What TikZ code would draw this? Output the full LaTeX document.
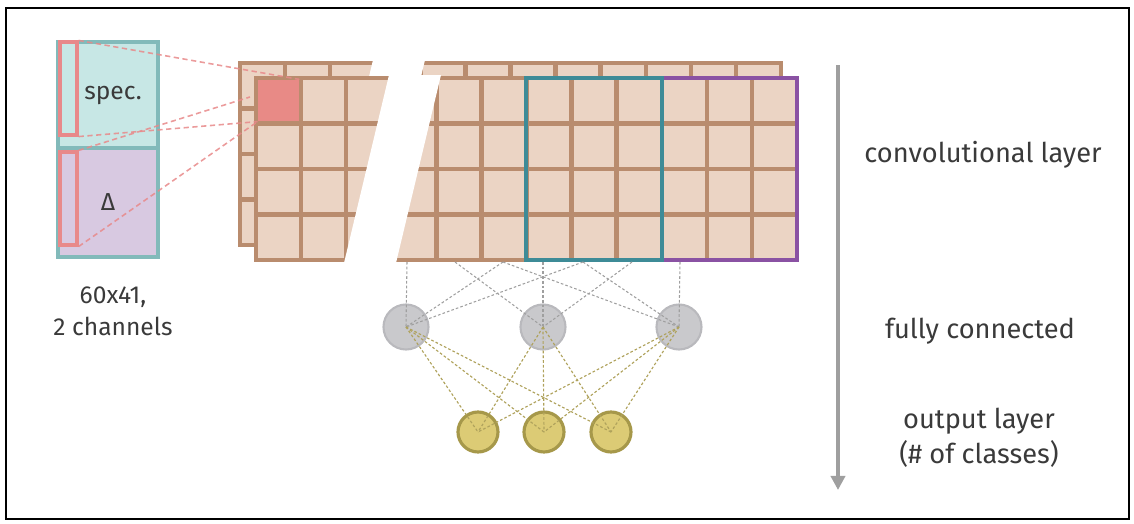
\documentclass[tikz,border=0pt]{standalone}
\usepackage{fontspec}
\setmainfont{Fira Sans}
\usetikzlibrary{arrows.meta}
\definecolor{cellfill}{HTML}{EBD4C4}
\definecolor{cellline}{HTML}{B98C6E}
\definecolor{hotcell}{HTML}{E88A86}
\definecolor{kernelline}{HTML}{E8898A}
\definecolor{inline}{HTML}{82BABA}
\definecolor{specfill}{HTML}{C7E7E5}
\definecolor{deltafill}{HTML}{D8C9E1}
\definecolor{winteal}{HTML}{3E8B97}
\definecolor{winpurple}{HTML}{8A52A3}
\definecolor{fcfill}{HTML}{C9C9CC}
\definecolor{fcline}{HTML}{B9B9BD}
\definecolor{outfill}{HTML}{DCCB75}
\definecolor{outline}{HTML}{A6984A}
\definecolor{txt}{HTML}{3A3A3A}
\tikzset{
  inbox/.style={draw=inline, line width=2.2pt, minimum width=2cm, inner sep=0pt, text=txt},
  kernel/.style={draw=kernelline, line width=1.8pt, minimum width=0.34cm, minimum height=1.86cm, inner sep=0pt},
  gridline/.style={draw=cellline, line width=2.5pt, line cap=rect},
  fcnode/.style={circle, fill=fcfill, draw=fcline, line width=1.2pt, minimum size=0.9cm, inner sep=0pt},
  outnode/.style={circle, fill=outfill, draw=outline, line width=1.8pt, minimum size=0.80cm, inner sep=0pt},
  kernellink/.style={draw=kernelline, line width=0.9pt, dash pattern=on 3pt off 2pt, opacity=0.85},
  gridlink/.style={draw=gray!75, line width=0.6pt, dash pattern=on 1.5pt off 1.2pt},
  fclink/.style={draw=outline!90, line width=0.65pt, dash pattern=on 1.5pt off 1.2pt},
  sidetext/.style={text=txt, align=center, inner sep=0pt}
}
\begin{document}
\begin{tikzpicture}[x=0.02cm, y=-0.02cm, font=\fontsize{14}{18}\selectfont]
  \useasboundingbox (0,0) rectangle (1134,524);
  \draw[line width=0.9pt] (6,8) rectangle (1129,519);
  \def\cw{45.08}
  \def\rh{45.5}
  \foreach \gx/\gy in {240/63,256/78}{
    \fill[cellfill] (\gx,\gy) rectangle ++({12*\cw},{4*\rh});
    \foreach \c in {0,...,12}
      \draw[gridline] ({\gx+\c*\cw},\gy) -- ++(0,{4*\rh});
    \foreach \r in {0,...,4}
      \draw[gridline] (\gx,{\gy+\r*\rh}) -- ++({12*\cw},0);
    \fill[white] ({\gx+133},{\gy-3}) -- ({\gx+185},{\gy-3})
      -- ({\gx+140},{\gy+185}) -- ({\gx+88},{\gy+185}) -- cycle;
  }
  \node[fill=hotcell, minimum width=0.82cm, minimum height=0.83cm, inner sep=0pt] (hot) at (278.5,100.5) {};
  \draw[winpurple, line width=2.4pt] (662,78) rectangle (797,260);
  \draw[winteal, line width=2.4pt] (526,78) rectangle (662,260);
  \node[inbox, fill=specfill, minimum height=2.12cm] (spec) at (108,95) {\hspace{0.2cm}spec.};
  \node[inbox, fill=deltafill, minimum height=2.18cm] (delta) at (108,202.5) {Δ};
  \node[kernel] (k1) at (68.5,88.5) {};
  \node[kernel] (k2) at (68.5,198.5) {};
  \coordinate (back) at (250,97);
  \draw[kernellink] (k1.north east) -- (hot.north east);
  \draw[kernellink] (k1.south east) -- (hot.south west);
  \draw[kernellink] (k2.north east) -- (back);
  \draw[kernellink] (k2.south east) -- (hot.south west);
  \node[sidetext] (insize) at (113,311) {60x41,\\2 channels};
  \node[fcnode] (f1) at (406,327) {};
  \node[fcnode] (f2) at (543,327) {};
  \node[fcnode] (f3) at (679,327) {};
  \node[outnode] (o1) at (478,432) {};
  \node[outnode] (o2) at (544,432) {};
  \node[outnode] (o3) at (611,432) {};
  \foreach \n/\x in {1/407,2/455,3/503,4/543,5/583,6/632,7/680}
    \coordinate (t\n) at (\x,262);
  \foreach \t/\f in {t1/f1,t3/f1,t5/f1,t2/f2,t4/f2,t6/f2,t3/f3,t5/f3,t7/f3}
    \draw[gridlink] (\t) -- (\f.center);
  \foreach \f in {f1,f2,f3}
    \foreach \o in {o1,o2,o3}
      \draw[fclink] (\f.center) -- (\o.center);
  \coordinate (flowtop) at (838,65);
  \coordinate (flowbot) at (838,490);
  \draw[gray!75, line width=2pt, -{Triangle[width=8pt, length=8pt]}] (flowtop) -- (flowbot);
  \begin{scope}[font=\fontsize{15.5}{20}\selectfont]
    \node[sidetext] (convtxt) at (983,155) {convolutional layer};
    \node[sidetext] (fctxt) at (980,331) {fully connected};
    \node[sidetext] (outtxt) at (979,438) {output layer\\(\# of classes)};
  \end{scope}
\end{tikzpicture}
\end{document}
